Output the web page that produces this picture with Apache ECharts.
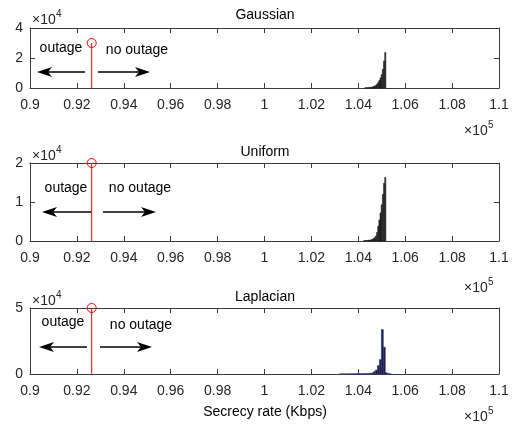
<!DOCTYPE html>
<html>
<head>
<meta charset="utf-8">
<script src="https://cdn.jsdelivr.net/npm/echarts@6/dist/echarts.min.js"></script>
<style>
  html, body { margin: 0; padding: 0; background: #fff; }
  #chart { width: 512px; height: 424px; }
</style>
</head>
<body>
<div id="chart"></div>
<script>
// secrecy rate histograms (Kbps) for three noise models
const panelTitles = ["Gaussian", "Uniform", "Laplacian"]
const outageThreshold = 92630
const stemHeights = [30000, 20000, 50000]

const gaussBinWidth = 50
const gaussCenters = [104300, 104350, 104400, 104450, 104500, 104550, 104600, 104650, 104700,
  104750, 104800, 104850, 104900, 104950, 105000, 105050, 105100, 105150]
const gaussCounts = [100, 150, 200, 300, 400, 500, 700, 900, 1300,
  1800, 2600, 3600, 5000, 6800, 9000, 12500, 18000, 23700]

const uniformBinWidth = 50
const uniformCenters = [104250, 104300, 104350, 104400, 104450, 104500, 104550, 104600, 104650, 104700,
  104750, 104800, 104850, 104900, 104950, 105000, 105050, 105100, 105150]
const uniformCounts = [80, 100, 120, 150, 200, 250, 300, 420, 600, 850,
  1300, 2200, 3800, 5400, 7200, 9300, 12000, 14800, 16300]

const laplaceBinWidth = 85
const laplaceCenters = [103240, 103325, 103410, 103495, 103580, 103665, 103750, 103835, 103920,
  104005, 104090, 104175, 104260, 104345, 104430, 104515, 104600, 104685, 104770, 104855,
  104940, 105025, 105110, 105195, 105280, 105365]
const laplaceCounts = [60, 60, 80, 90, 100, 120, 140, 160, 180,
  200, 230, 260, 280, 300, 350, 500, 800, 1800, 3000, 6300,
  10900, 33700, 20300, 1000, 250, 80]

const xMin = 90000
const xMax = 110000
const xStep = 2000
const yMax = [40000, 20000, 50000]
const yStep = [20000, 10000, 50000]

const grids = [
  { left: 30, top: 28, width: 469, height: 60 },
  { left: 30, top: 163, width: 469, height: 78 },
  { left: 30, top: 308, width: 469, height: 66 }
]

const FONT = "Liberation Sans, Arial, sans-serif"
const AXIS = "#3a3a3a"
const TEXT = "#262626"
const RED = "#ff0000"

const hist = [
  { centers: gaussCenters, counts: gaussCounts, width: gaussBinWidth, fill: "#262626", stroke: "#1a1a1a" },
  { centers: uniformCenters, counts: uniformCounts, width: uniformBinWidth, fill: "#262626", stroke: "#1a1a1a" },
  { centers: laplaceCenters, counts: laplaceCounts, width: laplaceBinWidth, fill: "#1e1e3c", stroke: "#2e2e86" }
]

const xAxes = []
const yAxes = []
const series = []

grids.forEach((g, i) => {
  const tick = { show: true, inside: true, length: 5, lineStyle: { color: AXIS } }
  const line = { show: true, onZero: false, lineStyle: { color: AXIS, width: 1 } }
  xAxes.push({
    gridIndex: i, type: "value", min: xMin, max: xMax, interval: xStep, position: "bottom",
    axisLine: line, axisTick: tick, splitLine: { show: false },
    axisLabel: {
      fontSize: 14, fontFamily: FONT, color: TEXT, margin: 10,
      formatter: v => String(parseFloat((v / 1e5).toFixed(2)))
    }
  })
  xAxes.push({
    gridIndex: i, type: "value", min: xMin, max: xMax, interval: xStep, position: "top",
    axisLine: line, axisTick: tick, splitLine: { show: false }, axisLabel: { show: false }
  })
  yAxes.push({
    gridIndex: i, type: "value", min: 0, max: yMax[i], interval: yStep[i], position: "left",
    axisLine: line, axisTick: tick, splitLine: { show: false },
    axisLabel: {
      fontSize: 14, fontFamily: FONT, color: TEXT, margin: 7,
      formatter: v => String(v / 1e4)
    }
  })
  yAxes.push({
    gridIndex: i, type: "value", min: 0, max: yMax[i], interval: yStep[i], position: "right",
    axisLine: line, axisTick: tick, splitLine: { show: false }, axisLabel: { show: false }
  })

  const h = hist[i]
  series.push({
    type: "custom",
    xAxisIndex: i * 2,
    yAxisIndex: i * 2,
    data: h.centers.map((c, k) => [c, h.counts[k]]),
    renderItem: (params, api) => {
      const c = api.value(0)
      const top = api.coord([c - h.width / 2, api.value(1)])
      const bottom = api.coord([c + h.width / 2, 0])
      return {
        type: "rect",
        shape: { x: top[0], y: top[1], width: bottom[0] - top[0], height: bottom[1] - top[1] },
        style: { fill: h.fill, stroke: h.stroke, lineWidth: 0.5 }
      }
    },
    z: 2
  })

  // outage threshold stem
  series.push({
    type: "line",
    xAxisIndex: i * 2,
    yAxisIndex: i * 2,
    clip: false,
    data: [
      { value: [outageThreshold, 0], symbol: "none" },
      {
        value: [outageThreshold, stemHeights[i]], symbol: "circle", symbolSize: 9,
        itemStyle: { color: "rgba(0,0,0,0)", borderColor: RED, borderWidth: 1 }
      }
    ],
    lineStyle: { color: RED, width: 1 },
    itemStyle: { color: "rgba(0,0,0,0)", borderColor: RED, borderWidth: 1 },
    z: 5
  })
})

function text(x, y, str, size, align) {
  return {
    type: "text", x, y, z: 10,
    style: {
      text: str, fill: "#000", font: `${size}px ${FONT}`,
      textAlign: align || "center", textVerticalAlign: "middle"
    }
  }
}

function power(x, y, exp) {
  return [
    { type: "text", x, y, z: 10, style: { text: "\u00d710", fill: TEXT, font: `14px ${FONT}`, textAlign: "left", textVerticalAlign: "middle" } },
    { type: "text", x: x + 24, y: y - 6, z: 10, style: { text: exp, fill: TEXT, font: `10px ${FONT}`, textAlign: "left", textVerticalAlign: "middle" } }
  ]
}

function arrow(from, to, y) {
  const dir = to > from ? 1 : -1
  return [
    { type: "line", z: 10, shape: { x1: from, y1: y, x2: to - dir * 10, y2: y }, style: { stroke: "#000", lineWidth: 1.3 } },
    {
      type: "polygon", z: 10,
      shape: { points: [[to, y], [to - dir * 15, y - 5], [to - dir * 11, y], [to - dir * 15, y + 5]] },
      style: { fill: "#000" }
    }
  ]
}

const graphic = [
  text(265, 15, panelTitles[0], 14),
  text(265, 152, panelTitles[1], 14),
  text(265, 297, panelTitles[2], 14),
  ...power(32, 20, "4"),
  ...power(32, 156, "4"),
  ...power(32, 301, "4"),
  ...power(464, 131, "5"),
  ...power(464, 288, "5"),
  ...power(464, 417, "5"),
  text(61, 48, "outage", 14),
  text(137, 50, "no outage", 14),
  text(66, 188, "outage", 14),
  text(140, 188, "no outage", 14),
  text(63, 322, "outage", 14),
  text(141, 325, "no outage", 14),
  ...arrow(85, 37, 72),
  ...arrow(98, 150, 72),
  ...arrow(91, 42, 212),
  ...arrow(103, 156, 212),
  ...arrow(87, 39, 347),
  ...arrow(100, 152, 347),
  text(265, 412, "Secrecy rate (Kbps)", 14)
]

const chart = echarts.init(document.getElementById("chart"), null, { renderer: "canvas" })
chart.setOption({
  animation: false,
  backgroundColor: "#fff",
  grid: grids.map(g => ({ ...g, containLabel: false })),
  xAxis: xAxes,
  yAxis: yAxes,
  series,
  graphic
})
</script>
</body>
</html>
